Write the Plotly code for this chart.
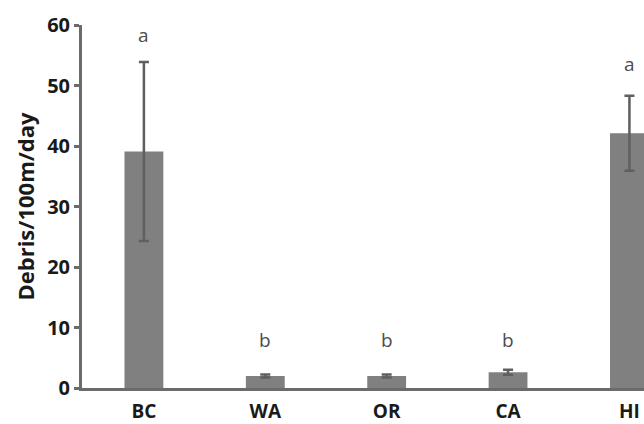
import plotly.graph_objects as go

categories = ["BC", "WA", "OR", "CA", "HI"]
means = [39.1, 2.0, 2.0, 2.6, 42.1]
errors = [14.8, 0.25, 0.25, 0.4, 6.2]
letters = ["a", "b", "b", "b", "a"]
letter_y = [58.3, 7.9, 7.9, 7.9, 53.6]
y_ticks = [0, 10, 20, 30, 40, 50, 60]

FONT = "Open Sans"
TXT = "#1a1a1a"
AX = "#6b6b6b"

fig = go.Figure()
fig.add_trace(go.Bar(
    x=categories, y=means,
    marker=dict(color="#808080", line=dict(width=0)),
    width=0.32,
    error_y=dict(type="data", array=errors, visible=True,
                 color="#5f5f5f", thickness=2.5, width=5),
))

for c, l, ly in zip(categories, letters, letter_y):
    fig.add_annotation(x=c, y=ly, text=l, showarrow=False,
                       font=dict(family=FONT, size=19, color="#4d4d4d"))

fig.update_layout(
    width=644, height=424,
    margin=dict(l=82, r=0, t=25, b=36),
    plot_bgcolor="white", paper_bgcolor="white",
    showlegend=False,
    font=dict(family=FONT, color=TXT),
)
fig.update_xaxes(
    type="category", range=[-0.51, 4.12], automargin=False,
    showline=True, linecolor=AX, linewidth=3,
    ticks="", showgrid=False, zeroline=False,
    tickfont=dict(family=FONT, size=19, weight="bold", color=TXT),
    ticklabelstandoff=4,
)
fig.update_yaxes(
    range=[0, 60], tickvals=y_ticks, automargin=False,
    showline=True, linecolor=AX, linewidth=3,
    ticks="outside", ticklen=5, tickwidth=3, tickcolor=AX,
    showgrid=False, zeroline=False,
    tickfont=dict(family=FONT, size=20, weight="bold", color=TXT),
    title=dict(text="Debris/100m/day", standoff=7,
               font=dict(family=FONT, size=22, weight="bold", color=TXT)),
)

fig.write_html("out.html",
               config={"displayModeBar": False},
               post_script="document.body.style.margin='0';document.body.style.overflow='hidden';")
